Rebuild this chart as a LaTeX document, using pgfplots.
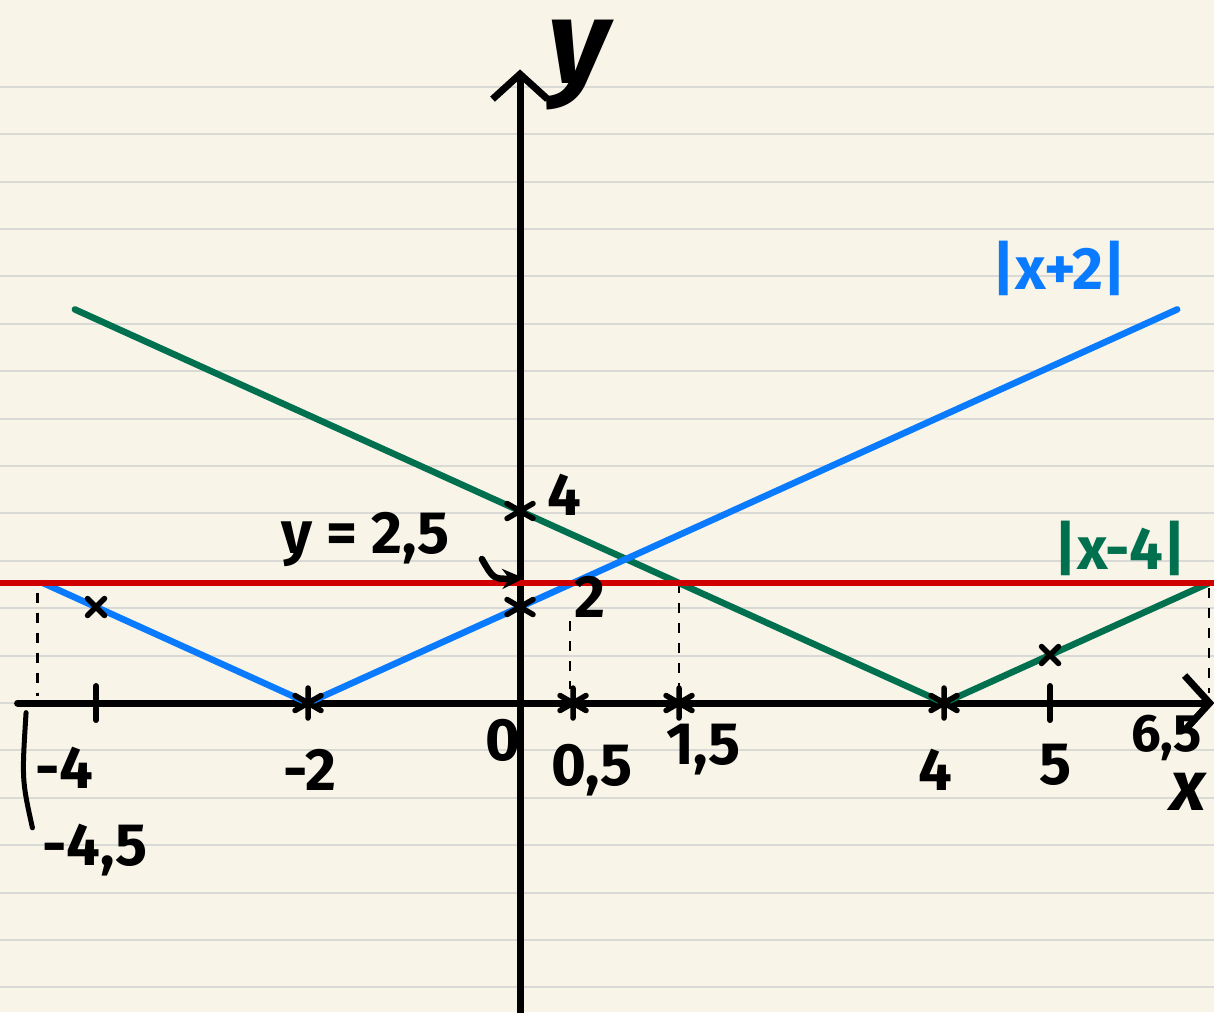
\documentclass[border=0pt]{standalone}
\usepackage{pgfplots}
\pgfplotsset{compat=1.18}
\usepackage{fontspec}
\setmainfont{Fira Sans}
\usetikzlibrary{arrows.meta}

\definecolor{paper}{HTML}{F8F5E8}
\definecolor{rule}{HTML}{D9D9D6}
\definecolor{absblue}{HTML}{0A7BFF}
\definecolor{absgreen}{HTML}{00704F}
\definecolor{absred}{HTML}{D10000}

\begin{document}
\begin{tikzpicture}
\begin{axis}[
  scale only axis,
  width=12.14cm, height=10.12cm,
  xmin=-4.906, xmax=6.547,
  ymin=-6.4375, ymax=14.646,
  axis line style={draw=none},
  xtick=\empty, ytick=\empty,
  axis background/.style={fill=paper},
  every axis plot/.append style={line join=round, line cap=round},
  font=\fontsize{17}{20}\selectfont\bfseries,
]
% ruled paper
\pgfplotsinvokeforeach{-6,...,13}{
  \draw[rule, line width=0.02cm] (axis cs:-6,{0.9875*#1}) -- (axis cs:7,{0.9875*#1});
}

% axes
\draw[line width=0.07cm, line cap=round,
  -{Straight Barb[length=0.25cm, width=0.55cm, line width=0.07cm]}]
  (axis cs:-4.74,0) -- (axis cs:6.55,0);
\draw[line width=0.07cm,
  -{Straight Barb[length=0.25cm, width=0.55cm, line width=0.07cm]}]
  (axis cs:0,-6.5) -- (axis cs:0,13.2);

% projections onto the x axis
\draw[line width=0.025cm, dash pattern=on 0.1cm off 0.1cm] (axis cs:-4.55,2.3) -- (axis cs:-4.55,0.15);
\draw[line width=0.025cm, dash pattern=on 0.1cm off 0.1cm] (axis cs:0.47,1.7) -- (axis cs:0.47,0.3);
\draw[line width=0.025cm, dash pattern=on 0.1cm off 0.1cm] (axis cs:1.5,2.5) -- (axis cs:1.5,0.2);
\draw[line width=0.025cm, dash pattern=on 0.1cm off 0.1cm] (axis cs:6.5,2.4) -- (axis cs:6.5,0.2);
\draw[line width=0.05cm, line cap=round] (axis cs:-4.66,-0.2) .. controls (axis cs:-4.7,-1.6) .. (axis cs:-4.6,-2.6);

% functions
\addplot[absgreen, line width=0.065cm] coordinates {(-4.2,8.2) (4,0) (6.5,2.5)};
\addplot[absblue, line width=0.065cm] coordinates {(-4.5,2.5) (-2,0) (6.2,8.2)};
\addplot[absred, line width=0.065cm] coordinates {(-4.906,2.5) (6.547,2.5)};

% marked points
\addplot[only marks, mark=asterisk, mark size=0.15cm, line width=0.055cm]
  coordinates {(-2,0) (4,0) (0,4) (0,2) (0.5,0) (1.5,0)};
\addplot[only marks, mark=x, mark size=0.12cm, line width=0.055cm]
  coordinates {(-4,2) (5,1)};
\addplot[only marks, mark=|, mark size=0.17cm, line width=0.06cm]
  coordinates {(-4,0) (5,0)};

% labels
\node at (axis cs:-4.3,-1.35) {-4};
\node at (axis cs:-1.98,-1.40) {-2};
\node at (axis cs:-0.16,-0.77) {0};
\node at (axis cs:0.68,-1.40) {0,5};
\node at (axis cs:1.73,-0.98) {1,5};
\node at (axis cs:3.92,-1.40) {4};
\node at (axis cs:5.05,-1.29) {5};
\node[font=\fontsize{15}{18}\selectfont\bfseries] at (axis cs:6.1,-0.72) {6,5};
\node at (axis cs:-4.01,-3.06) {-4,5};
\node at (axis cs:0.42,4.33) {4};
\node at (axis cs:0.66,2.21) {2};
\node at (axis cs:-1.46,3.40) {y = 2,5};
\draw[line width=0.065cm, line cap=round, -{Stealth[length=0.22cm, width=0.2cm]}] (axis cs:-0.36,3.0) .. controls (axis cs:-0.25,2.58) .. (axis cs:0.04,2.6);
\node[font=\fontsize{34}{36}\selectfont\bfseries\itshape] at (axis cs:0.55,13.3) {y};
\node[font=\fontsize{20}{22}\selectfont\bfseries\itshape] at (axis cs:6.3,-1.85) {x};
\node[absblue] at (axis cs:5.09,9.06) {|x+2|};
\node[absgreen] at (axis cs:5.66,3.23) {|x-4|};
\end{axis}
\pgfresetboundingbox
\path (current axis.south west) rectangle (current axis.north east);
\end{tikzpicture}
\end{document}
